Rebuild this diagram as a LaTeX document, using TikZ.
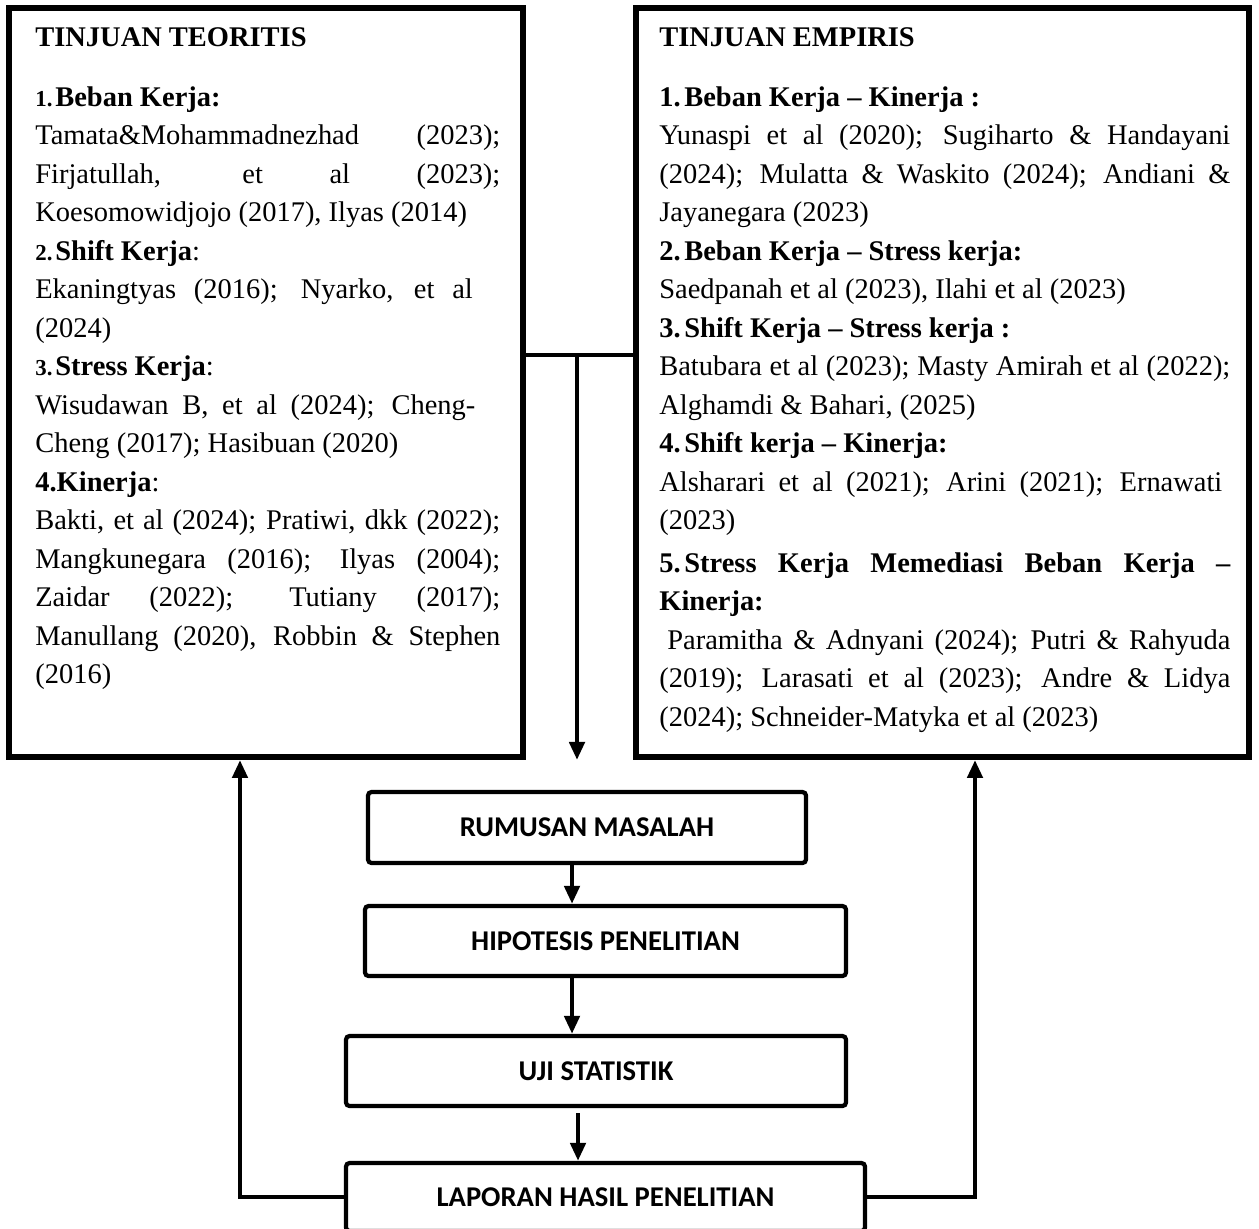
\documentclass[tikz,border=0pt]{standalone}
\usepackage{fontspec}
\setmainfont{Liberation Serif}
\newfontfamily\calibri{Carlito}
\usetikzlibrary{arrows.meta}
\setlength{\parindent}{0pt}
\tolerance=9999
\hbadness=10000
\newcommand{\nomor}[1]{\makebox[0.5cm][l]{\textbf{#1}}}
\newcommand{\angka}[1]{\makebox[0.4cm][l]{\fontsize{13}{13}\selectfont\bfseries #1}}

\begin{document}
\begin{tikzpicture}[>={Triangle[length=3.6mm, width=3mm]}, kajian/.style={draw, line width=3.4pt, inner sep=0pt, anchor=north west, minimum height=14.98cm}, isi/.style={anchor=base west, inner sep=0pt, align=justify, font=\fontsize{16.2}{21.9}\selectfont}, tahap/.style={draw, line width=2.4pt, rounded corners=2pt, inner sep=0pt, font=\calibri\bfseries\fontsize{16.3}{19}\selectfont}, alur/.style={line width=2.6pt}]
	\useasboundingbox (0,0) rectangle (25.18,-24.56);
	\clip (0,0) rectangle (25.18,-24.56);
	\node[kajian, minimum width=10.28cm] (teori) at (0.12,-0.10) {};
	\node[kajian, minimum width=12.26cm] (empiris) at (12.66,-0.10) {};
	\node[isi, text width=9.30cm] (teoriTxt) at (0.70,-0.93) {\textbf{TINJUAN TEORITIS}\par\vspace{0.43cm}
		\angka{1.}\textbf{Beban Kerja:}\par
		Tamata\&Mohammadnezhad (2023);\linebreak Firjatullah, et al (2023);\linebreak Koesomowidjojo (2017), Ilyas (2014)\par
		\angka{2.}\textbf{Shift Kerja}:\par
		Ekaningtyas (2016); Nyarko, et al\hspace*{0.55cm}\linebreak (2024)\par
		\angka{3.}\textbf{Stress Kerja}:\par
		Wisudawan B, et al (2024); Cheng-\hspace*{0.5cm}\linebreak Cheng (2017); Hasibuan (2020)\par
		\textbf{4.Kinerja}:\par
		Bakti, et al (2024); Pratiwi, dkk (2022);\linebreak Mangkunegara (2016); Ilyas (2004);\linebreak Zaidar (2022); Tutiany (2017);\linebreak Manullang (2020), Robbin \& Stephen\linebreak (2016)};
	\node[isi, text width=11.42cm] (empirisTxt) at (13.18,-0.93) {\textbf{TINJUAN EMPIRIS}\par\vspace{0.43cm}
		\nomor{1.}\textbf{Beban Kerja -- Kinerja :}\par
		Yunaspi et al (2020); Sugiharto \& Handayani\linebreak (2024); Mulatta \& Waskito (2024); Andiani \&\linebreak Jayanegara (2023)\par
		\nomor{2.}\textbf{Beban Kerja -- Stress kerja:}\par
		Saedpanah et al (2023), Ilahi et al (2023)\par
		\nomor{3.}\textbf{Shift Kerja -- Stress kerja :}\par
		Batubara et al (2023); Masty Amirah et al (2022);\linebreak Alghamdi \& Bahari, (2025)\par
		\nomor{4.}\textbf{Shift kerja -- Kinerja:}\par
		Alsharari et al (2021); Arini (2021); Ernawati\hspace*{0.16cm}\linebreak (2023)\par\vspace{0.08cm}
		\nomor{5.}\textbf{Stress Kerja Memediasi Beban Kerja --\linebreak Kinerja:}\par
		\hspace*{0.16cm}Paramitha \& Adnyani (2024); Putri \& Rahyuda\linebreak (2019); Larasati et al (2023); Andre \& Lidya\linebreak (2024); Schneider-Matyka et al (2023)};
	\node[tahap, minimum width=8.76cm, minimum height=1.42cm] (rumusan) at (11.74,-16.55) {RUMUSAN MASALAH};
	\node[tahap, minimum width=9.62cm, minimum height=1.40cm] (hipotesis) at (12.11,-18.82) {HIPOTESIS PENELITIAN};
	\node[tahap, minimum width=10.00cm, minimum height=1.40cm] (uji) at (11.92,-21.42) {UJI STATISTIK};
	\node[tahap, minimum width=10.38cm, minimum height=1.36cm] (laporan) at (12.11,-23.94) {LAPORAN HASIL PENELITIAN};
	\coordinate (simpang) at (11.54,-7.10);
	\draw[alur] (teori.east |- simpang) -- (empiris.west |- simpang);
	\draw[alur, ->] (simpang) -- (simpang |- teori.south);
	\draw[alur, ->] ([xshift=-0.30cm]rumusan.south) -- ([xshift=-0.30cm]rumusan.south |- hipotesis.north);
	\draw[alur, ->] ([xshift=-0.67cm]hipotesis.south) -- ([xshift=-0.67cm]hipotesis.south |- uji.north);
	\draw[alur, ->] ([xshift=-0.36cm, yshift=-0.1cm]uji.south) -- ([xshift=-0.36cm]uji.south |- laporan.north);
	\draw[alur, ->] (laporan.west) -| ([xshift=-0.52cm]teori.south);
	\draw[alur, ->] (laporan.east) -| ([xshift=0.65cm]empiris.south);
	
\end{tikzpicture}
\end{document}
